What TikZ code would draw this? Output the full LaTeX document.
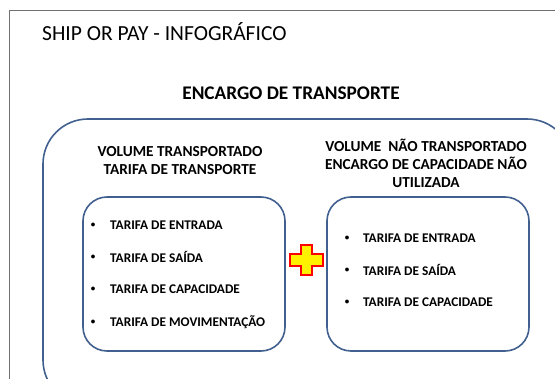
\documentclass[tikz,border=0pt]{standalone}
\usepackage{fontspec}
\setmainfont{Carlito}
\definecolor{boxblue}{HTML}{41608F}
\definecolor{framegray}{HTML}{707070}

\tikzset{
    roundbox/.style={draw=boxblue, line width=1.6pt, rounded corners=24pt,
        minimum width=202pt, minimum height=154pt},
    heading/.style={font=\bfseries\fontsize{15.3}{18}\selectfont, align=center},
    item/.style={font=\bfseries\fontsize{13.3}{15}\selectfont, anchor=west, inner sep=0pt},
    dot/.style={font=\bfseries\fontsize{9}{10}\selectfont, inner sep=0pt},
}

\begin{document}
\begin{tikzpicture}[x=1pt,y=-1pt]
    \useasboundingbox (0,0) rectangle (555,379);
    \clip (0,0) rectangle (555,379);

    % page frame and titles
    \draw[framegray, line width=1pt] (560,11) -- (9,11) -- (9,385);
    \node[anchor=west, inner sep=0pt, font=\fontsize{21.5}{24}\selectfont] (title) at (42,32) {SHIP OR PAY - INFOGRÁFICO};
    \node[font=\bfseries\fontsize{19.3}{22}\selectfont] (encargo) at (291,93) {ENCARGO DE TRANSPORTE};

    % outer box
    \draw[boxblue, line width=1.6pt, rounded corners=45pt] (43,119) rectangle (572,405);

    % left column
    \node[heading] (headleft) at (180,161) {VOLUME TRANSPORTADO\\TARIFA DE TRANSPORTE};
    \node[roundbox] (boxleft) at (184,274) {};
    \foreach\t [count=\i] in {TARIFA DE ENTRADA,TARIFA DE SAÍDA,TARIFA DE CAPACIDADE,TARIFA DE MOVIMENTAÇÃO}{
        \node[dot] (dotleft\i) at (93, 225+32.3*\i-32.3) {\textbullet};
        \node[item] (itemleft\i) at (110, 225+32.3*\i-32.3) {\t};
    }

    % right column
    \node[heading] (headright) at (426,163) {VOLUME \ NÃO TRANSPORTADO\\ENCARGO DE CAPACIDADE NÃO\\UTILIZADA};
    \node[roundbox] (boxright) at (428,274) {};
    \foreach\t [count=\i] in {TARIFA DE ENTRADA,TARIFA DE SAÍDA,TARIFA DE CAPACIDADE}{
        \node[dot] (dotright\i) at (347, 238+32*\i-32) {\textbullet};
        \node[item] (itemright\i) at (363, 238+32*\i-32) {\t};
    }

    % plus sign
    \draw[draw=red, fill=yellow, line width=1.8pt, line join=miter]
        (301,245) -- (312,245) -- (312,254) -- (323,254) -- (323,266) -- (312,266)
        -- (312,275) -- (301,275) -- (301,266) -- (290,266) -- (290,254) -- (301,254) -- cycle;
\end{tikzpicture}
\end{document}
